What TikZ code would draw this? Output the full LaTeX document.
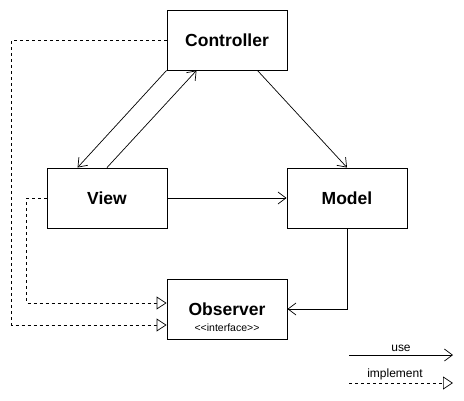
\documentclass[tikz,border=0pt]{standalone}
\usepackage{fontspec}
\setmainfont{Liberation Sans}
\usetikzlibrary{arrows.meta}
\begin{document}
\begin{tikzpicture}[x=1pt,y=-1pt]

\tikzstyle{cls}=[rectangle,draw=black,line width=0.9pt,minimum width=120pt,minimum height=60pt,inner sep=0pt,font=\fontsize{17.5}{20}\selectfont\bfseries]
\tikzstyle{use}=[line width=0.7pt,-{Straight Barb[length=8pt,width=12pt,line width=0.7pt]}]
\tikzstyle{impl}=[line width=0.7pt,dash pattern=on 3pt off 3pt,-{Triangle[open,length=10pt,width=13pt,line width=0.7pt,fill=white]}]
\tikzstyle{lbl}=[font=\fontsize{12}{14}\selectfont]

\useasboundingbox (0,0) rectangle (464,400);

%classes.
\node[cls] (ctrl) at (227,40) {Controller};
\node[cls] (view) at (107,198) {View};
\node[cls] (model) at (347,198) {Model};
\node[cls] (obs) at (227,309) {};
\node[font=\fontsize{17.5}{20}\selectfont\bfseries] (obsname) at (227,309) {Observer};
\node[font=\fontsize{10.5}{12}\selectfont] (obstype) at (227,328) {{<}{<}interface{>}{>}};

\draw [use] (ctrl.south west) -- ([xshift=31pt]view.north west);
\draw [use] (view.north) -- ([xshift=30pt]ctrl.south west);
\draw [use] ([xshift=-30pt]ctrl.south east) -- (model.north);
\draw [use] (view.east) -- (model.west);
\draw [use] (model.south) |- (obs.east);

\draw [impl] (ctrl.west) -- ++(-155,0) |- ([yshift=-16pt]obs.west);
\draw [impl] (view.west) -- ++(-20,0) |- ([yshift=6pt]obs.west);

%legend.
\coordinate (use1) at (349,355);
\coordinate (use2) at (453,355);
\coordinate (impl1) at (349,383);
\coordinate (impl2) at (453,383);
\draw [use] (use1) -- (use2) node[midway, above, lbl, inner sep=3pt] {use};
\draw [impl] (impl1) -- (impl2) node[midway, above, lbl, inner sep=3pt, xshift=-6pt] {implement};

\end{tikzpicture}
\end{document}
